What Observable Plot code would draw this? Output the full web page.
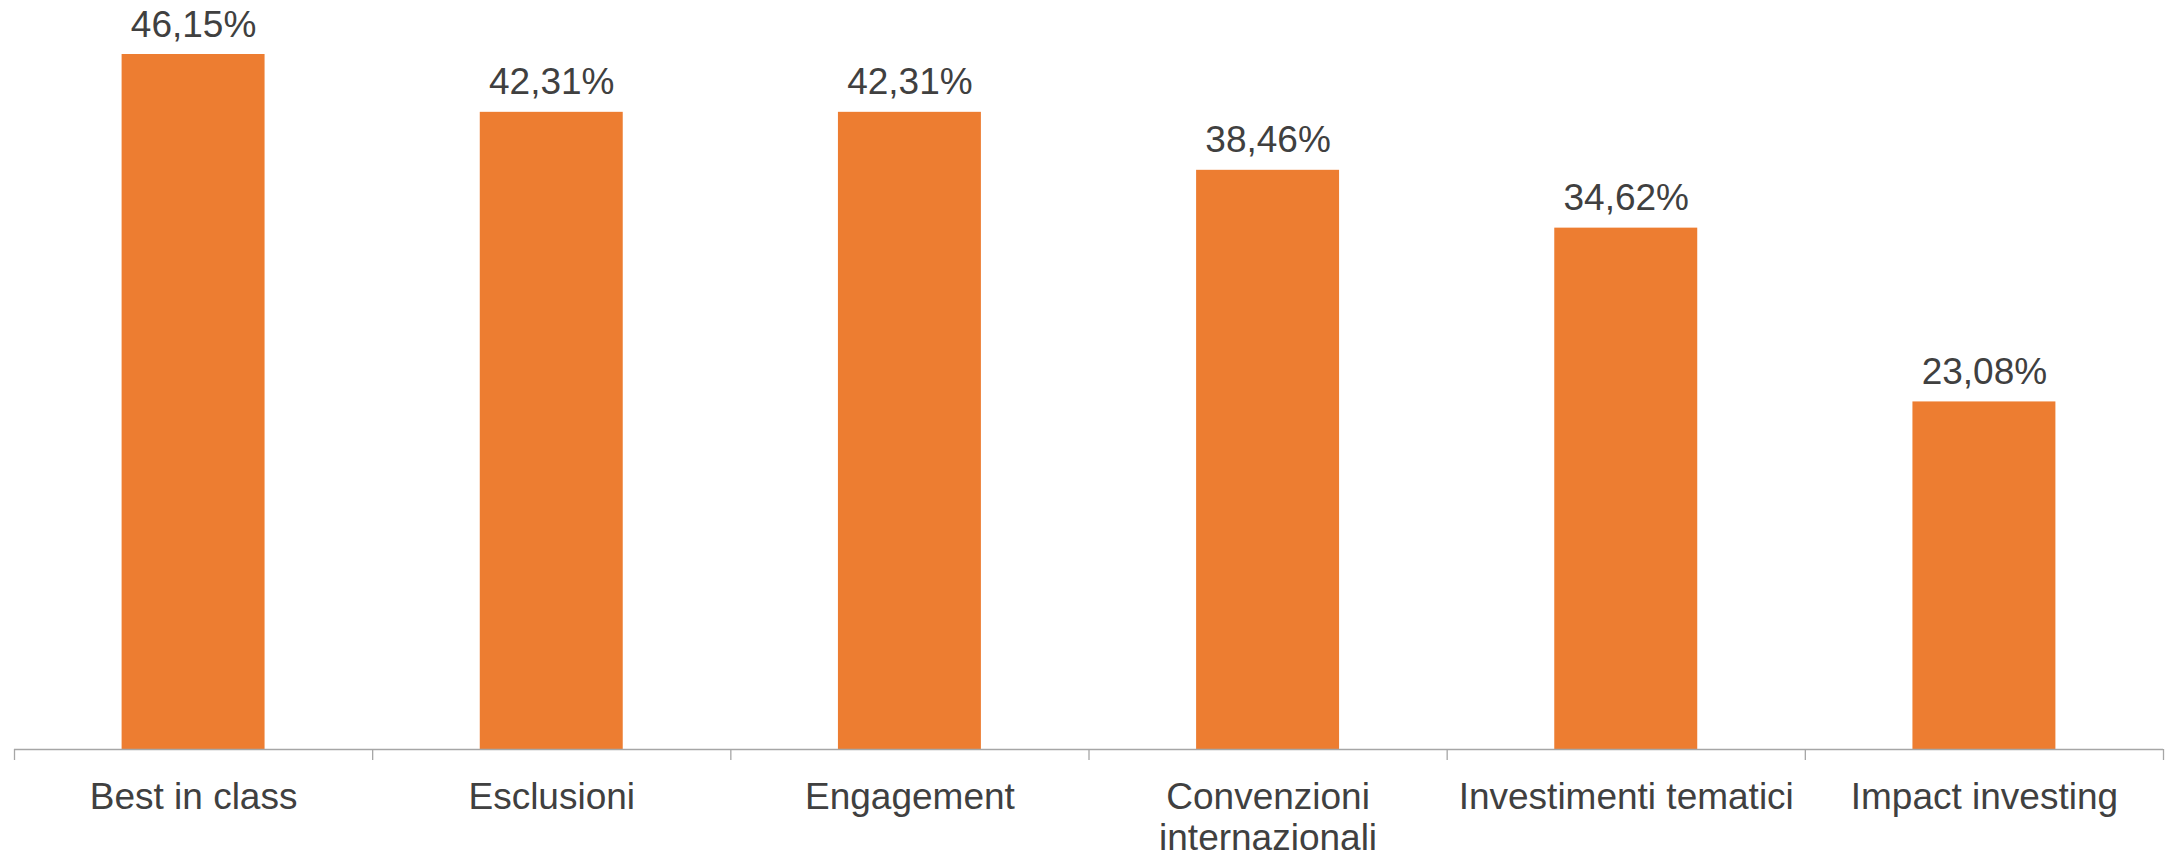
<!DOCTYPE html>
<html>
<head>
<meta charset="utf-8">
<script src="https://cdn.jsdelivr.net/npm/d3@7"></script>
<script src="https://cdn.jsdelivr.net/npm/@observablehq/plot@0.6"></script>
<style>
  html, body { margin: 0; padding: 0; background: #ffffff; }
  #chart svg { display: block; }
</style>
</head>
<body>
<div id="chart"></div>
<script>
const categories = ["Best in class", "Esclusioni", "Engagement", "Convenzioni\ninternazionali", "Investimenti tematici", "Impact investing"];
const values = [46.15, 42.31, 42.31, 38.46, 34.62, 23.08];

const data = categories.map((c, i) => ({ i, category: c, value: values[i] }));
const fmt = v => v.toFixed(2).replace(".", ",") + "%";

const W = 2165, H = 853;
const textColor = "#404040";
const axisColor = "#a6a6a6";

const chart = Plot.plot({
  width: W,
  height: H,
  marginLeft: 14,
  marginRight: 2,
  marginTop: 54,
  marginBottom: 104,
  style: { fontFamily: "'Liberation Sans', Arial, sans-serif", background: "#ffffff", overflow: "visible" },
  x: { type: "linear", domain: [0, categories.length], axis: null },
  y: { domain: [0, 46.15], axis: null },
  marks: [
    Plot.rectY(data, { x: "i", interval: 1, y: "value", fill: "#ed7d31", insetLeft: 107.6, insetRight: 107.6 }),
    Plot.ruleY([0], { stroke: axisColor, strokeWidth: 1.3 }),
    Plot.axisX({ ticks: d3.range(categories.length + 1), tickSize: 11, tickFormat: () => "", stroke: axisColor, strokeWidth: 1.3, label: null }),
    Plot.text(data, { x: d => d.i + 0.5, y: "value", text: d => fmt(d.value), dy: -18, lineAnchor: "bottom", fontSize: 37, fill: textColor }),
    Plot.text(data, { x: d => d.i + 0.5, y: () => 0, text: "category", dy: 31, lineAnchor: "top", lineHeight: 1.1, fontSize: 37, fill: textColor })
  ]
});
document.getElementById("chart").appendChild(chart);
</script>
</body>
</html>
